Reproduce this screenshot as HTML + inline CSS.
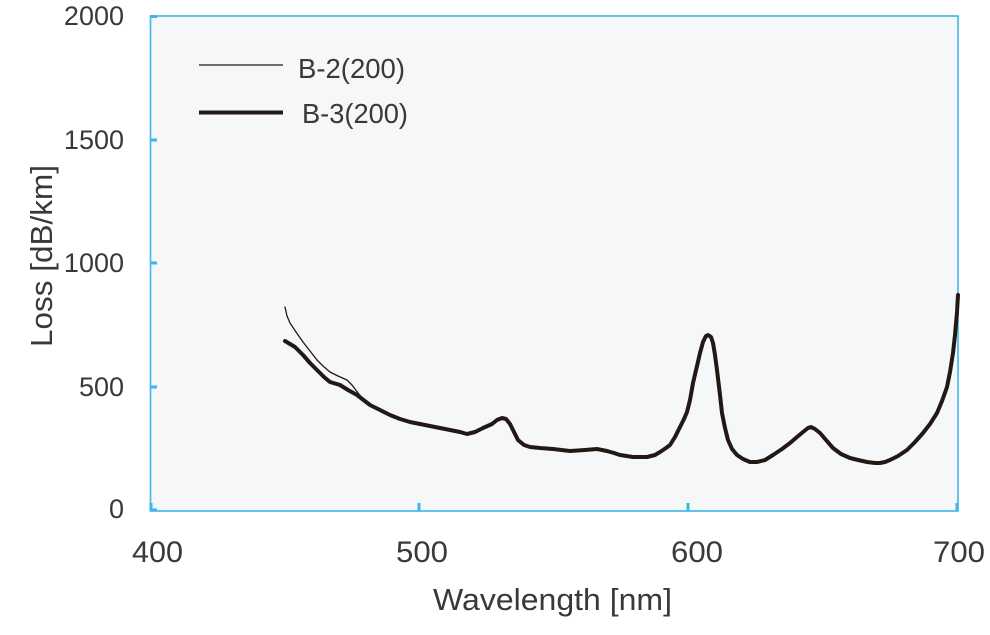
<!DOCTYPE html>
<html>
<head>
<meta charset="utf-8">
<style>
html,body{margin:0;padding:0;background:#fff;}
svg{display:block;}
text{font-family:"Liberation Sans","Noto Sans CJK JP",sans-serif;fill:#3b3838;}
</style>
</head>
<body>
<svg width="990" height="635" viewBox="0 0 990 635" xmlns="http://www.w3.org/2000/svg">
  <rect x="0" y="0" width="990" height="635" fill="#ffffff"/>
  <!-- plot area -->
  <rect x="150.5" y="16" width="807.5" height="495" fill="#f5f7f9"/>
  <g stroke="#3fb6ea" fill="none">
    <rect x="150.5" y="16" width="807.5" height="495" stroke-width="1.6"/>
    <!-- y ticks -->
    <g stroke-width="3">
      <line x1="150" y1="16.5" x2="157" y2="16.5"/>
      <line x1="150" y1="140" x2="157" y2="140"/>
      <line x1="150" y1="263" x2="157" y2="263"/>
      <line x1="150" y1="387" x2="157" y2="387"/>
      <line x1="150" y1="510" x2="157" y2="510"/>
      <!-- x ticks -->
      <line x1="151" y1="511" x2="151" y2="503"/>
      <line x1="419" y1="511" x2="419" y2="503"/>
      <line x1="688" y1="511" x2="688" y2="503"/>
      <line x1="957" y1="511" x2="957" y2="503"/>
    </g>
  </g>

  <!-- y tick labels -->
  <g font-size="27" text-anchor="end">
    <text x="124" y="25">2000</text>
    <text x="124" y="149">1500</text>
    <text x="124" y="272">1000</text>
    <text x="124" y="396">500</text>
    <text x="124" y="518">0</text>
  </g>
  <!-- x tick labels -->
  <g font-size="30">
    <text x="132" y="562" textLength="51" lengthAdjust="spacingAndGlyphs">400</text>
    <text x="396" y="562" textLength="52" lengthAdjust="spacingAndGlyphs">500</text>
    <text x="671" y="562" textLength="52" lengthAdjust="spacingAndGlyphs">600</text>
    <text x="933" y="562" textLength="52" lengthAdjust="spacingAndGlyphs">700</text>
  </g>
  <!-- axis titles -->
  <text x="433" y="610" font-size="31" textLength="239" lengthAdjust="spacingAndGlyphs">Wavelength [nm]</text>
  <text transform="translate(52,347) rotate(-90)" x="0" y="0" font-size="31" textLength="182" lengthAdjust="spacingAndGlyphs">Loss [dB/km]</text>

  <!-- legend -->
  <line x1="199" y1="65" x2="283" y2="65" stroke="#231815" stroke-width="1.2"/>
  <line x1="199" y1="112.5" x2="283" y2="112.5" stroke="#231815" stroke-width="4"/>
  <text x="298" y="78" font-size="28" textLength="107" lengthAdjust="spacingAndGlyphs">B-2(200)</text>
  <text x="302" y="123" font-size="28" textLength="106" lengthAdjust="spacingAndGlyphs">B-3(200)</text>

  <!-- B-2 thin -->
  <polyline fill="none" stroke="#231815" stroke-width="1.3" stroke-linejoin="round" stroke-linecap="round"
    points="285,307 287,316 290,323 296,332 303,342 310,351 317,360 323,366 330,372 338,376 347,380 352,385 358,393 364,400 370,405"/>
  <!-- B-3 thick -->
  <polyline fill="none" stroke="#231815" stroke-width="4" stroke-linejoin="round" stroke-linecap="round"
    points="285,341 290,344 295,347 303,355 310,363 317,370 324,377 330,382 340,385 348,390 357,395 370,405 380,410 390,415 400,419 410,422 420,424 430,426 440,428 450,430 460,432 467,434 475,432 483,428 492,424 497,420 502,418 506,419 510,424 514,432 518,440 524,445 530,447 540,448 553,449 570,451 585,450 597,449 602,450 607,451 614,453 620,455 633,457 647,457 655,455 660,452 666,448 670,445 675,437 680,427 684,419 687,412 690,400 693,383 697,366 700,353 703,342 706,336 708,335 711,337 713,343 715,355 717,370 720,395 722,413 725,428 728,440 732,449 737,455 743,459 750,462 757,462 765,460 773,455 782,449 790,443 797,437 803,432 808,428 811,427 815,429 820,433 826,440 833,448 841,454 850,458 858,460 867,462 875,463 880,463 885,462 890,460 898,456 907,450 915,442 923,433 930,424 937,413 942,401 947,387 950,372 953,353 955,335 957,312 958,295"/>
</svg>
</body>
</html>
